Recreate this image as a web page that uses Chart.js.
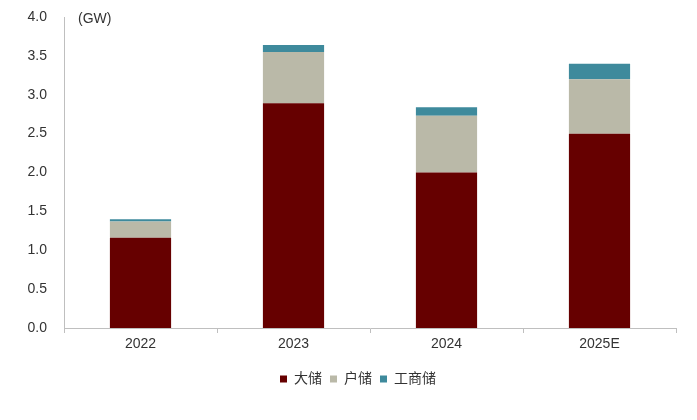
<!DOCTYPE html>
<html>
<head>
<meta charset="utf-8">
<script src="https://cdn.jsdelivr.net/npm/chart.js@4"></script>
<style>
  body { margin: 0; background: #fff; }
  #wrap { width: 697px; height: 420px; }
</style>
</head>
<body>
<div id="wrap"><canvas id="chart" width="697" height="420"></canvas></div>
<script>
const years = ['2022', '2023', '2024', '2025E'];
const bigStorage = [1.16, 2.89, 2.00, 2.50];   // 大储
const homeStorage = [0.21, 0.66, 0.73, 0.70];  // 户储
const ciStorage = [0.03, 0.09, 0.11, 0.20];    // 工商储
const yTicks = [0, 0.5, 1, 1.5, 2, 2.5, 3, 3.5, 4];

const fontFamily = '"Liberation Sans", Arial, "Noto Sans CJK SC", sans-serif';

// draws the (GW) unit label inside the chart area
const unitLabel = {
    id: 'unitLabel',
    afterDraw(chart) {
        const ctx = chart.ctx;
        ctx.save();
        ctx.font = '14px ' + fontFamily;
        ctx.fillStyle = '#333';
        ctx.textBaseline = 'middle';
        ctx.fillText('(GW)', chart.chartArea.left + 14, chart.chartArea.top + 2);
        ctx.restore();
    }
};

// nudge the legend a little to the right, like the original
const legendShift = {
    id: 'legendShift',
    afterLayout(chart) {
        chart.legend.left += 20;
        chart.legend.right += 20;
    }
};

new Chart(document.getElementById('chart').getContext('2d'), {
    type: 'bar',
    data: {
        labels: years,
        datasets: [
            { label: '大储', data: bigStorage, backgroundColor: '#660000' },
            { label: '户储', data: homeStorage, backgroundColor: '#BAB9A8' },
            { label: '工商储', data: ciStorage, backgroundColor: '#3E8A9C' }
        ]
    },
    options: {
        responsive: false,
        animation: false,
        layout: { padding: { top: 17, left: 0, right: 21, bottom: 24 } },
        datasets: { bar: { categoryPercentage: 0.8, barPercentage: 0.5 } },
        scales: {
            x: {
                stacked: true,
                grid: { display: true, drawOnChartArea: false, drawTicks: true, tickLength: 5, color: '#BFBFBF', offset: true },
                border: { color: '#BFBFBF', width: 1 },
                ticks: { color: '#333', font: { size: 14, family: fontFamily }, padding: 3 },
                afterFit: s => { s.height = 36; }
            },
            y: {
                stacked: true,
                min: 0,
                max: 4,
                afterBuildTicks: s => { s.ticks = yTicks.map(v => ({ value: v })); },
                grid: { display: false, drawTicks: false },
                border: { color: '#BFBFBF', width: 1 },
                ticks: {
                    color: '#333',
                    font: { size: 14, family: fontFamily },
                    padding: 17,
                    callback: v => Number(v).toFixed(1)
                },
                afterFit: s => {
                    s.width = 64;
                    s.paddingTop = 8;
                    s.paddingBottom = 8;
                }
            }
        },
        plugins: {
            legend: {
                position: 'bottom',
                labels: {
                    boxWidth: 7,
                    boxHeight: 7,
                    padding: 8,
                    color: '#333',
                    font: { size: 14, family: fontFamily }
                }
            },
            tooltip: { enabled: false }
        }
    },
    plugins: [unitLabel, legendShift]
});
</script>
</body>
</html>
